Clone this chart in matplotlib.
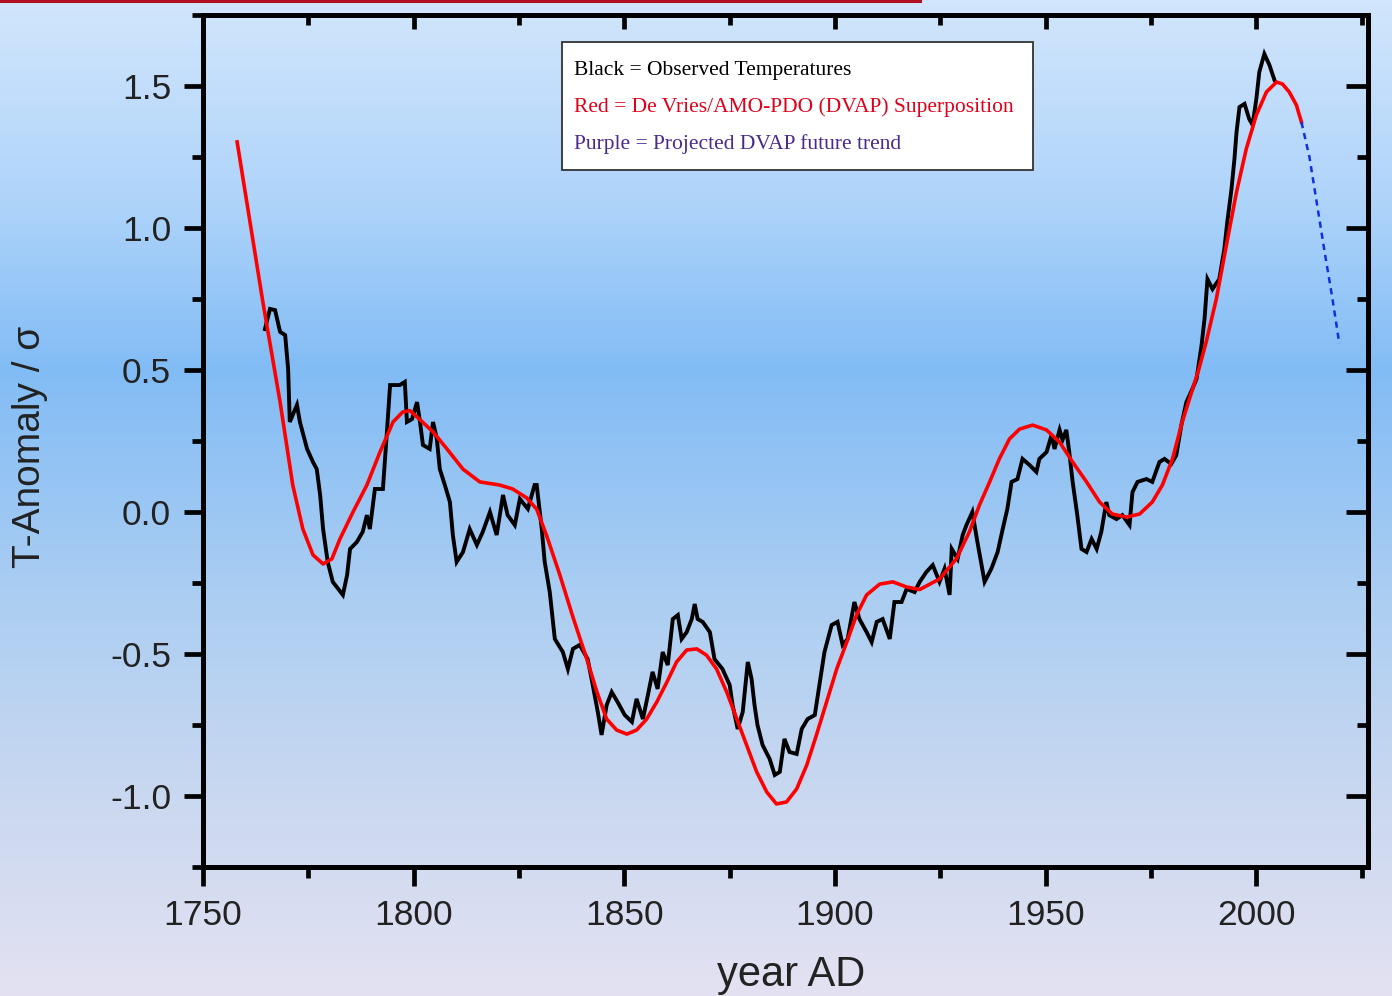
import numpy as np
import matplotlib
matplotlib.use("Agg")
import matplotlib.pyplot as plt
from matplotlib.ticker import MultipleLocator

# observed temperatures (smoothed), year / anomaly in sigma
obs_year = [1764.7, 1765.9, 1767.1, 1768.3, 1769.5, 1770.2, 1770.6, 1772.3, 1773.0, 1774.7,
            1776.1, 1777.0, 1777.8, 1778.5, 1779.6, 1780.8, 1783.2, 1784.2, 1784.9, 1786.5,
            1787.9, 1788.9, 1789.6, 1790.8, 1792.7, 1793.6, 1794.4, 1796.7, 1797.9, 1798.4,
            1799.6, 1800.8, 1801.5, 1802.2, 1803.8, 1804.6, 1805.5, 1806.2, 1807.4, 1808.6,
            1809.3, 1810.2, 1811.7, 1813.3, 1815.0, 1816.4, 1818.1, 1819.7, 1821.2, 1822.3,
            1824.0, 1825.2, 1827.1, 1828.7, 1829.2, 1830.4, 1831.1, 1832.3, 1833.5, 1835.4,
            1836.6, 1837.8, 1839.4, 1841.3, 1842.5, 1843.7, 1844.6, 1845.8, 1847.0, 1848.4,
            1850.1, 1851.8, 1852.9, 1854.4, 1855.6, 1856.7, 1857.9, 1859.1, 1860.3, 1861.5,
            1862.7, 1863.6, 1864.8, 1866.0, 1866.7, 1867.4, 1868.6, 1870.3, 1871.4, 1873.3,
            1875.0, 1875.7, 1876.9, 1878.1, 1879.3, 1880.2, 1880.9, 1881.6, 1882.8, 1884.5,
            1885.7, 1886.9, 1888.0, 1889.2, 1890.9, 1892.1, 1893.5, 1895.2, 1896.3, 1897.5,
            1899.2, 1900.6, 1901.8, 1903.0, 1904.6, 1905.8, 1907.5, 1908.7, 1909.9, 1911.3,
            1913.0, 1914.1, 1915.8, 1917.0, 1918.9, 1920.1, 1921.7, 1923.2, 1924.8, 1926.0,
            1927.2, 1927.7, 1929.1, 1930.3, 1931.2, 1932.6, 1933.8, 1935.5, 1937.1, 1938.6,
            1939.8, 1940.9, 1941.9, 1943.3, 1944.5, 1946.2, 1947.8, 1948.5, 1950.2, 1951.4,
            1952.1, 1953.3, 1954.0, 1954.9, 1955.6, 1956.4, 1957.5, 1958.5, 1959.7, 1960.9,
            1962.1, 1963.2, 1964.4, 1965.1, 1966.8, 1968.2, 1969.9, 1970.6, 1971.8, 1973.9,
            1975.3, 1977.0, 1978.2, 1979.8, 1981.0, 1982.2, 1983.4, 1984.8, 1985.8, 1987.0,
            1987.7, 1988.4, 1989.6, 1991.2, 1992.4, 1993.1, 1994.1, 1994.8, 1995.3, 1996.0,
            1997.2, 1998.3, 1999.1, 2000.0, 2000.7, 2001.9, 2003.1, 2004.3]
obs_val = [0.644, 0.715, 0.711, 0.634, 0.623, 0.504, 0.317, 0.377, 0.317, 0.222,
           0.176, 0.151, 0.060, -0.060, -0.176, -0.246, -0.292, -0.222, -0.130, -0.106,
           -0.070, -0.011, -0.060, 0.081, 0.081, 0.271, 0.447, 0.447, 0.458, 0.317,
           0.327, 0.387, 0.317, 0.236, 0.222, 0.317, 0.257, 0.151, 0.095, 0.035,
           -0.081, -0.176, -0.141, -0.060, -0.116, -0.070, 0.000, -0.081, 0.060, -0.011,
           -0.046, 0.046, 0.011, 0.095, 0.095, -0.060, -0.176, -0.282, -0.447, -0.493,
           -0.553, -0.482, -0.468, -0.518, -0.609, -0.704, -0.785, -0.680, -0.634, -0.669,
           -0.715, -0.739, -0.658, -0.729, -0.644, -0.563, -0.623, -0.493, -0.539, -0.377,
           -0.363, -0.447, -0.423, -0.377, -0.324, -0.377, -0.387, -0.423, -0.518, -0.553,
           -0.609, -0.680, -0.764, -0.704, -0.528, -0.588, -0.680, -0.750, -0.820, -0.870,
           -0.926, -0.915, -0.799, -0.845, -0.852, -0.764, -0.729, -0.715, -0.609, -0.493,
           -0.398, -0.387, -0.468, -0.447, -0.317, -0.377, -0.423, -0.458, -0.387, -0.377,
           -0.447, -0.317, -0.317, -0.271, -0.282, -0.246, -0.211, -0.187, -0.246, -0.200,
           -0.292, -0.130, -0.165, -0.081, -0.046, 0.000, -0.106, -0.246, -0.200, -0.141,
           -0.060, 0.011, 0.106, 0.116, 0.187, 0.165, 0.141, 0.187, 0.211, 0.271,
           0.222, 0.289, 0.254, 0.289, 0.211, 0.106, -0.011, -0.130, -0.141, -0.095,
           -0.130, -0.070, 0.035, -0.011, -0.025, -0.011, -0.046, 0.070, 0.106, 0.116,
           0.106, 0.176, 0.187, 0.169, 0.200, 0.306, 0.387, 0.433, 0.468, 0.588,
           0.680, 0.820, 0.785, 0.820, 0.926, 1.021, 1.137, 1.243, 1.338, 1.426,
           1.437, 1.384, 1.363, 1.454, 1.549, 1.613, 1.574, 1.521]

# De Vries / AMO-PDO superposition (DVAP)
dvap_year = [1758.1, 1764.2, 1768.3, 1771.3, 1773.7, 1776.1, 1778.5, 1780.6, 1782.5, 1785.6,
             1788.9, 1792.0, 1795.1, 1797.4, 1799.1, 1801.5, 1804.6, 1807.9, 1811.7, 1815.7,
             1820.4, 1823.5, 1826.8, 1829.2, 1831.6, 1834.7, 1837.8, 1841.1, 1843.5, 1845.8,
             1848.2, 1850.6, 1852.9, 1855.3, 1857.7, 1860.1, 1862.4, 1864.8, 1867.2, 1869.5,
             1871.9, 1874.3, 1876.7, 1879.0, 1881.4, 1883.8, 1886.1, 1888.5, 1890.9, 1893.3,
             1895.6, 1898.0, 1900.4, 1902.8, 1905.1, 1907.5, 1910.6, 1913.7, 1917.0, 1920.1,
             1924.8, 1928.8, 1931.9, 1934.3, 1936.7, 1939.0, 1941.4, 1943.8, 1946.9, 1950.2,
             1953.3, 1956.4, 1959.7, 1962.8, 1965.8, 1969.2, 1972.3, 1975.3, 1977.7, 1980.1,
             1982.4, 1984.8, 1986.3, 1988.1, 1990.5, 1992.9, 1995.3, 1997.6, 2000.0, 2002.4,
             2004.8, 2006.2, 2007.8, 2009.5, 2010.7]
dvap_val = [1.303, 0.740, 0.387, 0.095, -0.060, -0.151, -0.183, -0.165, -0.095, 0.000,
            0.095, 0.211, 0.317, 0.352, 0.357, 0.325, 0.282, 0.222, 0.151, 0.106,
            0.095, 0.081, 0.050, 0.010, -0.085, -0.222, -0.370, -0.518, -0.634, -0.729,
            -0.768, -0.782, -0.768, -0.729, -0.669, -0.599, -0.528, -0.486, -0.482, -0.504,
            -0.553, -0.634, -0.729, -0.820, -0.915, -0.986, -1.028, -1.021, -0.975, -0.891,
            -0.785, -0.669, -0.553, -0.458, -0.363, -0.292, -0.254, -0.246, -0.264, -0.273,
            -0.236, -0.165, -0.070, 0.025, 0.106, 0.187, 0.257, 0.292, 0.306, 0.289,
            0.246, 0.176, 0.106, 0.035, -0.007, -0.018, -0.007, 0.035, 0.095, 0.187,
            0.317, 0.430, 0.500, 0.599, 0.750, 0.940, 1.127, 1.278, 1.398, 1.479,
            1.514, 1.507, 1.479, 1.433, 1.373]

# projected DVAP trend
proj_year = [2010.7, 2012.6, 2014.5, 2016.4, 2018.0, 2019.7]
proj_val = [1.373, 1.250, 1.074, 0.898, 0.757, 0.592]

xticks = [1750, 1800, 1850, 1900, 1950, 2000]
yticks = [-1.0, -0.5, 0.0, 0.5, 1.0, 1.5]

W, H = 1392, 996
fig = plt.figure(figsize=(W / 100, H / 100), dpi=100)

# vertical gradient background
stops_y = [0, 200, 370, 600, 800, 996]
stops_c = np.array([[210, 230, 252], [175, 212, 250], [130, 188, 245],
                    [172, 206, 242], [202, 216, 240], [228, 226, 242]]) / 255.0
rows = np.arange(H)
grad = np.stack([np.interp(rows, stops_y, stops_c[:, k]) for k in range(3)], axis=1)
img = np.repeat(grad[:, None, :], 8, axis=1)
bg = fig.add_axes([0, 0, 1, 1], zorder=0)
bg.imshow(img, aspect="auto", extent=[0, 1, 0, 1], origin="upper")
bg.plot([0, 920 / W], [0.999, 0.999], color="#b01020", lw=2.2)
bg.set_xlim(0, 1)
bg.set_ylim(0, 1)
bg.axis("off")

ax = fig.add_axes([203 / W, 1 - 867 / H, (1368 - 203) / W, (867 - 15) / H], zorder=1)
ax.patch.set_alpha(0)

ax.plot(obs_year, obs_val, color="black", lw=2.8, zorder=3, solid_joinstyle="miter")
ax.plot(dvap_year, dvap_val, color="#ff0000", lw=2.6, zorder=4)
ax.plot(proj_year, proj_val, color="#1030e0", lw=1.8, ls=(0, (2.5, 2)), zorder=4)

ax.set_xlim(1750, 2026.5)
ax.set_ylim(-1.25, 1.75)
ax.set_xticks(xticks)
ax.set_yticks(yticks)
ax.set_xticklabels([str(v) for v in xticks])
ax.set_yticklabels(["%.1f" % v for v in yticks])
ax.xaxis.set_minor_locator(MultipleLocator(25))
ax.yaxis.set_minor_locator(MultipleLocator(0.25))

for s in ax.spines.values():
    s.set_linewidth(3.6)

ax.tick_params(which="both", direction="out", width=3.4, top=False, right=False,
               labelsize=25.5, pad=9, colors="black")
ax.tick_params(which="major", length=14)
ax.tick_params(which="minor", length=8)
for lab in ax.get_xticklabels() + ax.get_yticklabels():
    lab.set_family("Liberation Sans")
    lab.set_color("#222222")

# inward ticks along top and right
sec_x = ax.secondary_xaxis("top")
sec_x.set_xticks(xticks)
sec_x.xaxis.set_minor_locator(MultipleLocator(25))
sec_x.tick_params(which="both", direction="in", width=3.4, labeltop=False)
sec_x.tick_params(which="major", length=10)
sec_x.tick_params(which="minor", length=7)
sec_x.spines["top"].set_visible(False)
sec_y = ax.secondary_yaxis("right")
sec_y.set_yticks(yticks)
sec_y.yaxis.set_minor_locator(MultipleLocator(0.25))
sec_y.tick_params(which="both", direction="in", width=3.4, labelright=False)
sec_y.tick_params(which="major", length=16)
sec_y.tick_params(which="minor", length=8)
sec_y.spines["right"].set_visible(False)

fig.text(30 / W, 1 - 447 / H, "T-Anomaly / σ", rotation=90, ha="center", va="center",
         fontsize=28, family="Liberation Sans", color="#222222")
fig.text(791 / W, 1 - 986 / H, "year AD", ha="center", va="baseline",
         fontsize=30, family="Liberation Sans", color="#222222")

# legend box with coloured lines of text
box = plt.Rectangle((562 / W, 1 - 170 / H), (1033 - 562) / W, (170 - 42) / H,
                    transform=fig.transFigure, facecolor="white", edgecolor="#333333",
                    lw=1.3, zorder=5)
fig.add_artist(box)
legend_lines = [("Black = Observed Temperatures", "black"),
                ("Red = De Vries/AMO-PDO (DVAP) Superposition", "#e0001a"),
                ("Purple = Projected DVAP future trend", "#4a2a8a")]
for i, (txt, col) in enumerate(legend_lines):
    fig.text(574 / W, 1 - (70 + 37 * i) / H, txt, ha="left", va="center", fontsize=15.5,
             family="Liberation Serif", color=col, zorder=6)

fig.savefig("out.png", dpi=100)
